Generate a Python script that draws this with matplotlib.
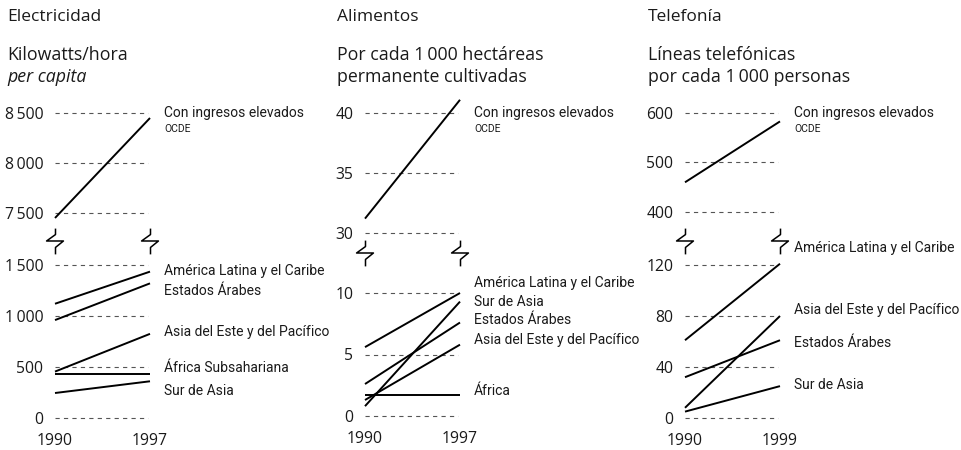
import matplotlib
matplotlib.use("Agg")
import matplotlib.pyplot as plt
from matplotlib.path import Path

# ---------------- data ----------------
elec_years = [1990, 1997]
elec_regions = ["Con ingresos elevados", "América Latina y el Caribe", "Estados Árabes",
                "Asia del Este y del Pacífico", "África Subsahariana", "Sur de Asia"]
elec_1990 = [7450, 1120, 960, 455, 435, 245]
elec_1997 = [8450, 1435, 1320, 825, 435, 360]
elec_upper_ticks = [7500, 8000, 8500]
elec_lower_ticks = [0, 500, 1000, 1500]

food_years = [1990, 1997]
food_regions = ["Con ingresos elevados", "América Latina y el Caribe", "Sur de Asia",
                "Estados Árabes", "Asia del Este y del Pacífico", "África"]
food_1990 = [31.2, 5.6, 0.8, 2.6, 1.3, 1.7]
food_1997 = [41.1, 10.0, 9.3, 7.6, 5.8, 1.7]
food_upper_ticks = [30, 35, 40]
food_lower_ticks = [0, 5, 10]

tel_years = [1990, 1999]
tel_regions = ["Con ingresos elevados", "América Latina y el Caribe",
               "Asia del Este y del Pacífico", "Estados Árabes", "Sur de Asia"]
tel_1990 = [460, 61, 8, 32, 5]
tel_1999 = [583, 121, 80, 61, 25]
tel_upper_ticks = [400, 500, 600]
tel_lower_ticks = [0, 40, 80, 120]

titles = ["Electricidad", "Alimentos", "Telefonía"]
subtitles = [("Kilowatts/hora", "per capita"),
             ("Por cada 1\u2009000 hectáreas", "permanente cultivadas"),
             ("Líneas telefónicas", "por cada 1\u2009000 personas")]

# --------------- layout (pixels) ---------------
W, H = 962, 450
DPI = 100
fig = plt.figure(figsize=(W / DPI, H / DPI), dpi=DPI)

FONT = ["Open Sans", "DejaVu Sans"]
NARROW = ["Roboto", "DejaVu Sans"]
TXT = "#1a1a1a"
GRID = "#555555"


def fmt(v):
    return f"{int(v):,}".replace(",", "\u2009")


def make_ax(xpx0, xpx1, years, ypx_top, ypx_bot, vtop, vbot):
    ax = fig.add_axes([xpx0 / W, 1 - ypx_bot / H, (xpx1 - xpx0) / W, (ypx_bot - ypx_top) / H])
    ax.set_xlim(years[0], years[1])
    ax.set_ylim(vbot, vtop)
    for s in ax.spines.values():
        s.set_visible(False)
    ax.patch.set_visible(False)
    ax.tick_params(length=0, colors=TXT)
    return ax


# break marker path
brk = Path([(0, 12), (0, 6), (-9, -0.5), (8, -0.5), (0, -7), (0, -14)],
           [Path.MOVETO] + [Path.LINETO] * 5)

panels = [
    dict(x0=55, x1=150, years=elec_years, regions=elec_regions, v0=elec_1990, v1=elec_1997,
         up=(113, 213, 8500, 7500), lo=(265, 418, 1500, 0),
         upt=elec_upper_ticks, lot=elec_lower_ticks, brk=240,
         lab_y=[None, 1441, 1245, 839, 495, 268]),
    dict(x0=365, x1=460, years=food_years, regions=food_regions, v0=food_1990, v1=food_1997,
         up=(113, 233, 40, 30), lo=(293, 416, 10, 0),
         upt=food_upper_ticks, lot=food_lower_ticks, brk=252,
         lab_y=[None, 10.8, 9.3, 7.8, 6.2, 2.0]),
    dict(x0=685, x1=780, years=tel_years, regions=tel_regions, v0=tel_1990, v1=tel_1999,
         up=(113, 212, 600, 400), lo=(265, 418, 120, 0),
         upt=tel_upper_ticks, lot=tel_lower_ticks, brk=240,
         lab_y=[None, 133, 84.8, 59.2, 26]),
]
title_x = [7, 337, 648]

for i, p in enumerate(panels):
    fig.text(title_x[i] / W, 1 - 17 / H, titles[i], ha="left", va="center",
             fontsize=12.5, family=FONT, color=TXT)
    fig.text(title_x[i] / W, 1 - 55 / H, subtitles[i][0], ha="left", va="center",
             fontsize=12.8, family=FONT, color=TXT)
    fig.text(title_x[i] / W, 1 - 77 / H, subtitles[i][1], ha="left", va="center",
             fontsize=12.8, family=FONT, color=TXT,
             style="italic" if i == 0 else "normal")

    axu = make_ax(p["x0"], p["x1"], p["years"], *p["up"])
    axl = make_ax(p["x0"], p["x1"], p["years"], *p["lo"])

    span = p["years"][1] - p["years"][0]
    for ax, ticks in ((axu, p["upt"]), (axl, p["lot"])):
        ax.set_yticks(ticks)
        ax.set_yticklabels([fmt(t) for t in ticks], family=FONT, fontsize=11.3)
        ax.tick_params(axis="y", pad=8.5)
        ax.hlines(ticks, p["years"][0], p["years"][1] - 0.02 * span,
                  colors=GRID, linewidth=0.8, linestyles=(0, (3.8, 3.8)), zorder=1,
                  clip_on=False)

    axu.set_xticks([])
    axl.set_xticks(p["years"])
    axl.set_xticklabels([str(y) for y in p["years"]], family=FONT, fontsize=11.3)
    axl.tick_params(axis="x", pad=11)

    for j, name in enumerate(p["regions"]):
        ax = axu if j == 0 else axl
        ax.plot(p["years"], [p["v0"][j], p["v1"][j]], color="black", lw=1.4,
                solid_capstyle="butt", clip_on=False, zorder=3)
        ly = p["up"][2] if j == 0 else p["lab_y"][j]
        ax.annotate(name, xy=(1, ly), xycoords=("axes fraction", "data"),
                    xytext=(10, 0), textcoords="offset points", ha="left", va="center",
                    family=NARROW, fontsize=10, color=TXT)
        if j == 0:
            ax.annotate("OCDE", xy=(1, ly), xycoords=("axes fraction", "data"),
                        xytext=(10, -11.5), textcoords="offset points", ha="left", va="center",
                        family=NARROW, fontsize=7.5, color=TXT)

    ytop, ybot = p["lo"][0], p["lo"][1]
    frac = 1 + (ytop - p["brk"]) / (ybot - ytop)
    axl.plot(p["years"], [frac, frac], transform=axl.get_xaxis_transform(),
             linestyle="none", marker=brk, markersize=20, markerfacecolor="none",
             markeredgecolor="black", markeredgewidth=1.1, clip_on=False)

fig.savefig("out.png", dpi=DPI)
